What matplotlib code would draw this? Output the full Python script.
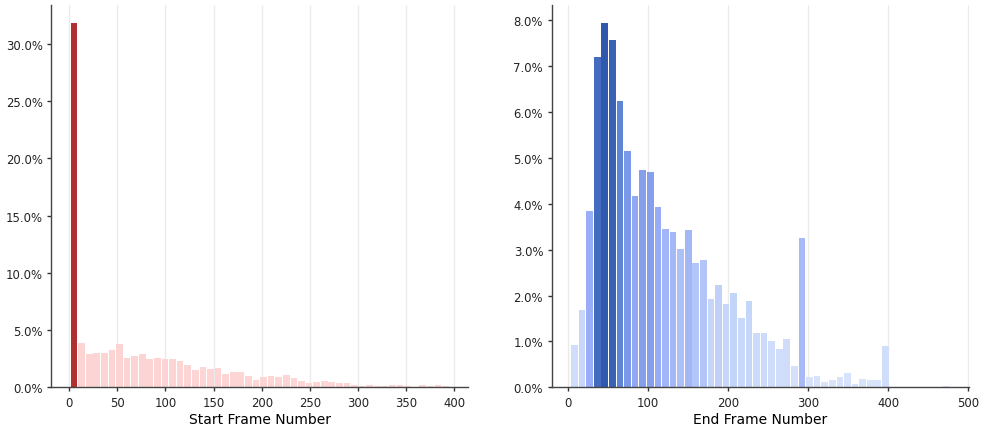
import numpy as np
import matplotlib
matplotlib.use("Agg")
import matplotlib.pyplot as plt
from matplotlib.colors import LinearSegmentedColormap
from matplotlib.ticker import PercentFormatter, MultipleLocator

# ----------------------------
# DATA (percent of clips per bin)
# ----------------------------
START_RANGE = (1.0, 395.0)     # first / last frame covered by the 50 bins
END_RANGE = (3.6, 476.8)
N_BINS = 50

start_pct = [
    31.8, 3.90, 2.94, 3.03, 3.03, 3.29, 3.82, 2.59, 2.77, 2.94,
    2.51, 2.59, 2.51, 2.51, 2.33, 1.98, 1.54, 1.81, 1.63, 1.72,
    1.19, 1.37, 1.37, 1.02, 0.67, 0.93, 1.02, 0.93, 1.11, 0.85,
    0.58, 0.41, 0.50, 0.58, 0.50, 0.41, 0.41, 0.20, 0.12, 0.20,
    0.12, 0.12, 0.20, 0.20, 0.12, 0.00, 0.20, 0.12, 0.20, 0.12,
]

end_pct = [
    0.92, 1.69, 3.84, 7.20, 7.94, 7.57, 6.24, 5.15, 4.17, 4.74,
    4.69, 3.93, 3.45, 3.39, 3.02, 3.43, 2.71, 2.78, 1.93, 2.23,
    1.82, 2.06, 1.51, 1.88, 1.18, 1.18, 1.01, 0.84, 1.05, 0.47,
    3.26, 0.23, 0.25, 0.12, 0.16, 0.23, 0.31, 0.07, 0.18, 0.16,
    0.16, 0.90, 0.00, 0.00, 0.00, 0.00, 0.00, 0.00, 0.00, 0.02,
]

start_xticks = list(range(0, 401, 50))
end_xticks = list(range(0, 501, 100))

# colour ramps: bar colour follows bar height
reds = LinearSegmentedColormap.from_list(
    "reds_soft", [(0.0, "#fdd6d6"), (0.15, "#fdd3d3"), (0.5, "#e88a8a"), (1.0, "#b03030")]
)
blues = LinearSegmentedColormap.from_list(
    "blues_soft",
    [(0.0, "#dae4fc"), (0.25, "#c5d5f9"), (0.5, "#96abf6"),
     (0.65, "#7c98e8"), (0.8, "#5b83d4"), (1.0, "#3058ad")],
)


def draw_hist(ax, heights, rng, cmap, xticks, xlabel, ystep):
    heights = np.asarray(heights)
    edges = np.linspace(rng[0], rng[1], N_BINS + 1)
    width = edges[1] - edges[0]
    centers = edges[:-1] + width / 2
    colors = cmap(heights / heights.max())
    ax.bar(centers, heights, width=width * 0.88, color=colors,
           linewidth=0, zorder=2)
    # keep the autoscale padding based on the full bin range
    ax.update_datalim([(edges[0], 0), (edges[-1], 0)])
    ax.autoscale_view()

    ax.set_xticks(xticks)
    ax.yaxis.set_major_locator(MultipleLocator(ystep))
    ax.yaxis.set_major_formatter(PercentFormatter(xmax=100, decimals=1))
    ax.set_xlabel(xlabel, fontsize=10, labelpad=2)

    ax.grid(axis="x", color="#ebebeb", linewidth=1.0, zorder=0)
    ax.set_axisbelow(True)
    for side in ("top", "right"):
        ax.spines[side].set_visible(False)
    for side in ("left", "bottom"):
        ax.spines[side].set_color("#444444")
        ax.spines[side].set_linewidth(1.0)
    ax.tick_params(axis="both", labelsize=8.33, length=3.2, width=1.0,
                   color="#333333", labelcolor="#222222", pad=3)


# ----------------------------
# FIGURE
# ----------------------------
fig = plt.figure(figsize=(9.84, 4.31), dpi=100)
ax1 = fig.add_axes([0.0521, 0.0991, 0.4238, 0.887])
ax2 = fig.add_axes([0.5607, 0.0991, 0.4238, 0.887])

draw_hist(ax1, start_pct, START_RANGE, reds, start_xticks, "Start Frame Number", 5)
draw_hist(ax2, end_pct, END_RANGE, blues, end_xticks, "End Frame Number", 1)

fig.savefig("out.png", dpi=100)
plt.close(fig)
